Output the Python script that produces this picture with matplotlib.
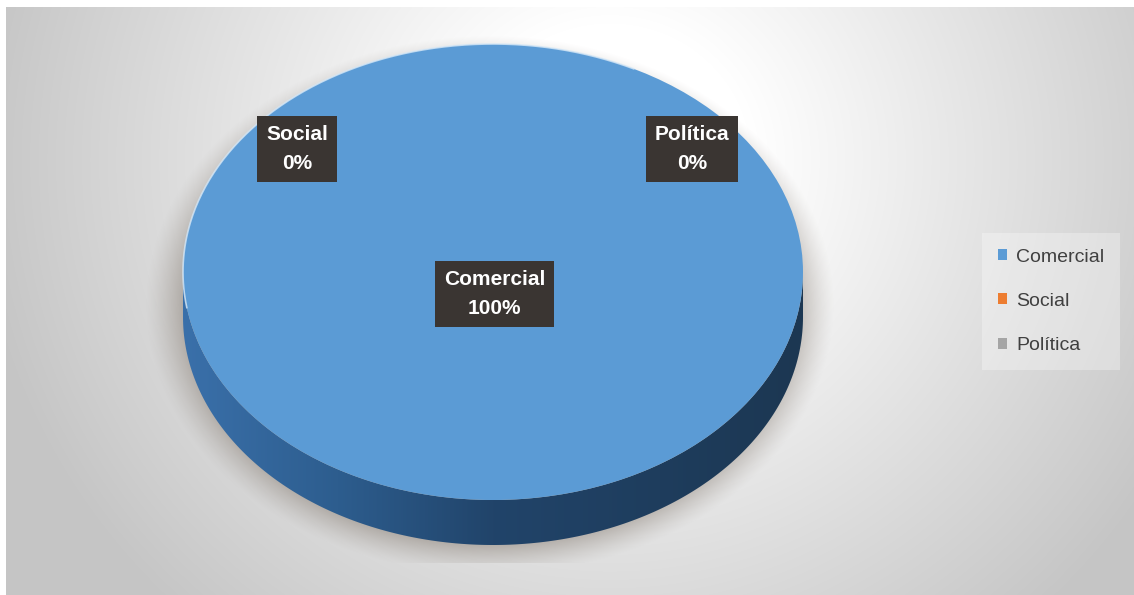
import numpy as np
import matplotlib
matplotlib.use("Agg")
import matplotlib.pyplot as plt
from matplotlib.patches import Polygon
from matplotlib.colors import LinearSegmentedColormap

# ---- data ----
categories = ["Comercial", "Social", "Política"]
values = [100, 0, 0]
colors = ["#5b9bd5", "#ed7d31", "#a5a5a5"]

W, H = 1134, 595
fig = plt.figure(figsize=(W / 100, H / 100), dpi=100)
fig.patch.set_facecolor("white")

# ---- background (pixel coords) ----
bg = fig.add_axes([0, 0, 1, 1])
bg.set_xlim(0, W)
bg.set_ylim(H, 0)
bg.axis("off")

x0, y0 = 6, 7
xs = np.arange(x0, W) + 0.5
ys = np.arange(y0, H) + 0.5
X, Y = np.meshgrid(xs, ys)
r = np.sqrt(((X - 610) / 640) ** 2 + ((Y - 160) / 620) ** 2)
t = np.clip((r - 0.22) / 0.78, 0, 1)
g = 1.0 - t * (255 - 197) / 255
img = np.dstack([g, g, g])
bg.imshow(img, extent=[x0, W, H, y0], zorder=0, interpolation="bilinear")

# shadow beneath the pie
cx, cy, rx, ry = 490, 305, 322, 252
rs = np.sqrt(((X - cx) / rx) ** 2 + ((Y - cy) / ry) ** 2)
a = np.clip((1.07 - rs) / 0.12, 0, 1) ** 1.3 * 0.5
a[Y > 563] = 0
sh = np.zeros((len(ys), len(xs), 4))
sh[..., 0] = 0.52
sh[..., 1] = 0.48
sh[..., 2] = 0.44
sh[..., 3] = a
bg.imshow(sh, extent=[x0, W, H, y0], zorder=1, interpolation="bilinear")

# ---- pie axes (units: radius = 1) ----
PCX, PCY, PRX, PRY = 493, 272, 310, 228
DEPTH = 45 / PRY
pax = fig.add_axes([0, 0, 1, 1])
pax.patch.set_alpha(0)

# side of the 3D pie
th = np.linspace(np.pi, 2 * np.pi, 200)
lower_bottom = np.column_stack([np.cos(th), np.sin(th) - DEPTH])
lower_top = np.column_stack([np.cos(th[::-1]), np.sin(th[::-1])])
side_pts = np.vstack([lower_bottom, [[1, 0]], lower_top, [[-1, 0]]])
side = Polygon(side_pts, closed=True, facecolor="none", edgecolor="none")
pax.add_patch(side)
side_cmap = LinearSegmentedColormap.from_list(
    "side", [(0, "#3a70aa"), (0.25, "#2d5d8e"), (0.5, "#21446a"), (1, "#1c3752")])
grad = np.linspace(0, 1, 256).reshape(1, -1)
im = pax.imshow(grad, cmap=side_cmap, extent=[-1, 1, -1 - DEPTH, 0],
                aspect="auto", zorder=2)
im.set_clip_path(side)

# top face
wedges, _ = pax.pie(values, colors=colors, startangle=90, counterclock=False,
                    radius=1, wedgeprops=dict(linewidth=0, zorder=3))
for w in wedges:
    w.set_zorder(3)
rim = np.linspace(0.35 * np.pi, 1.05 * np.pi, 200)
pax.plot(np.cos(rim), np.sin(rim), color="#d6e8f7", lw=1.2, alpha=0.8, zorder=4)

pax.set_aspect("auto")
pax.set_xlim((0 - PCX) / PRX, (W - PCX) / PRX)
pax.set_ylim(-(H - PCY) / PRY, PCY / PRY)
pax.axis("off")

# data labels
total = sum(values)
label_pos = [(0.006, -0.096), (-0.632, 0.54), (0.642, 0.54)]
for cat, v, (lx, ly) in zip(categories, values, label_pos):
    pct = v / total * 100
    pax.text(lx, ly, f"{cat}\n{pct:.0f}%", ha="center", va="center",
             color="white", fontsize=15, fontweight="bold",
             family="Liberation Sans", linespacing=1.7, zorder=6,
             bbox=dict(boxstyle="square,pad=0.42", facecolor="#3a3532",
                       edgecolor="none"))

# legend
leg = fig.legend(wedges, categories, loc="upper left",
                 bbox_to_anchor=(982 / W, 1 - 233 / H), borderaxespad=0,
                 frameon=True, fancybox=False, framealpha=0.3,
                 facecolor="white", edgecolor="none",
                 prop=dict(family="Liberation Sans", size=14),
                 handlelength=0.5, handleheight=0.5, handletextpad=0.45,
                 labelspacing=1.4, borderpad=0.8)
for txt in leg.get_texts():
    txt.set_color("#404040")

fig.savefig("out.png", dpi=100)
